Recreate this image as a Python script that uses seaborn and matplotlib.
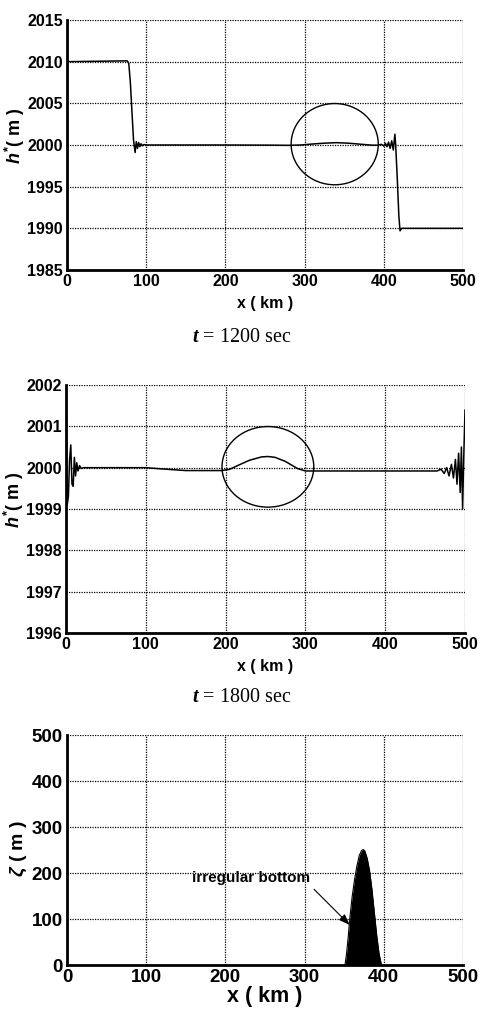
import matplotlib
matplotlib.use("Agg")
import matplotlib.pyplot as plt
import seaborn as sns
import pandas as pd
from matplotlib.patches import Ellipse

# ---------------- data ----------------
x1 = [0, 76, 78, 80, 82, 84, 86, 87.5, 89, 90.5, 92, 93.5, 95, 97, 100, 200, 260, 280,
      295, 310, 325, 340, 355, 370, 385, 393, 397, 400, 402, 404, 406, 408, 410, 412,
      414, 415, 417, 419, 420.5, 422.5, 426, 500]
h1 = [2010, 2010.1, 2009.8, 2007.5, 2004, 2000.6, 1999.1, 2000.4, 1999.6, 2000.3, 1999.8,
      2000.15, 1999.9, 2000.05, 2000, 2000, 1999.98, 1999.96, 2000.0, 2000.12, 2000.22,
      2000.28, 2000.22, 2000.1, 1999.98, 1999.98, 2000.08, 1999.88, 2000.2, 1999.8,
      2000.35, 1999.6, 2000.5, 1999.4, 2001.3, 2000.0, 1996, 1991.5, 1989.7, 1990.0,
      1990, 1990]

x2 = [0, 1.5, 3, 4.5, 6, 7.5, 9, 10.5, 12, 13.5, 15, 17, 19, 22, 100, 120, 150, 195,
      205, 215, 230, 245, 253, 262, 275, 290, 300, 310, 440, 465, 470, 474, 477, 480,
      483, 485.5, 488, 490, 492, 494, 495.5, 497, 498.5, 500]
h2 = [2001.8, 1999.1, 1999.3, 2000.2, 2000.55, 1999.6, 1999.55, 2000.25, 1999.8, 2000.12,
      1999.92, 2000.05, 1999.98, 2000.0, 2000.0, 1999.97, 1999.93, 1999.93, 1999.96,
      2000.05, 2000.18, 2000.26, 2000.27, 2000.25, 2000.15, 1999.98, 1999.92, 1999.92,
      1999.92, 1999.92, 1999.96, 1999.86, 2000.0, 1999.8, 2000.08, 1999.75, 2000.2,
      1999.6, 2000.35, 1999.4, 2000.5, 1999.0, 2000.3, 2001.4]

x3 = [351, 353, 355, 357, 360, 363, 366, 369, 372, 374, 376, 379, 382, 385, 388, 391, 394, 397]
z3 = [0, 25, 60, 100, 148, 185, 215, 238, 249, 251, 248, 232, 205, 165, 115, 65, 25, 0]

xticks = [0, 100, 200, 300, 400, 500]
yticks1 = [1985, 1990, 1995, 2000, 2005, 2010, 2015]
yticks2 = [1996, 1997, 1998, 1999, 2000, 2001, 2002]
yticks3 = [0, 100, 200, 300, 400, 500]

circle1 = (338, 2000.1, 110, 9.75)      # center x, center y, width, height
circle2 = (253, 2000.02, 115, 1.95)

titles = ["$\\mathsf{t}$ = 1200 sec", "$\\mathsf{t}$ = 1800 sec"]
ylabel_h = "$h^{*}$( m )"
ylabel_z = "$\\zeta$ ( m )"
xlabel = "x ( km )"
annot_text = "irregular bottom"
annot_xy = (357, 87)
annot_xytext = (232, 189)

# ---------------- style ----------------
sns.set_theme(style="white")
plt.rcParams["font.family"] = ["Liberation Sans", "DejaVu Sans"]
plt.rcParams["font.weight"] = "bold"
for k in ["text.color", "axes.labelcolor", "xtick.color", "ytick.color", "axes.edgecolor"]:
    plt.rcParams[k] = "black"
plt.rcParams["mathtext.fontset"] = "custom"
plt.rcParams["mathtext.it"] = "Liberation Sans:italic:bold"
plt.rcParams["mathtext.rm"] = "Liberation Sans:bold"
plt.rcParams["mathtext.bf"] = "Liberation Sans:bold"
plt.rcParams["mathtext.sf"] = "Liberation Serif:italic"

fig = plt.figure(figsize=(4.8, 10.1), dpi=100)

def px_axes(left, top, right, bottom):
    W, H = 480.0, 1010.0
    return fig.add_axes([left / W, 1 - bottom / H, (right - left) / W, (bottom - top) / H])

ax1 = px_axes(67, 20, 463, 270)
ax2 = px_axes(66, 385, 465, 633)
ax3 = px_axes(67, 735, 463, 965)

def style(ax, yticks, tick_size=11.5):
    ax.set_xlim(0, 500)
    ax.set_ylim(yticks[0], yticks[-1])
    ax.set_xticks(xticks)
    ax.set_yticks(yticks)
    ax.grid(True, color="black", linestyle=(0, (1, 1)), linewidth=0.9)
    ax.set_axisbelow(False)
    for s in ["top", "right"]:
        ax.spines[s].set_visible(False)
    for s in ["left", "bottom"]:
        ax.spines[s].set_linewidth(2.0)
        ax.spines[s].set_color("black")
    ax.tick_params(direction="in", length=3, width=1, colors="black",
                   labelsize=tick_size, pad=3)
    for lab in ax.get_xticklabels() + ax.get_yticklabels():
        lab.set_fontweight("bold")
        lab.set_color("black")

df1 = pd.DataFrame({"x": x1, "h": h1})
df2 = pd.DataFrame({"x": x2, "h": h2})

sns.lineplot(data=df1, x="x", y="h", ax=ax1, color="black", linewidth=1.1,
             estimator=None, sort=False)
sns.lineplot(data=df2, x="x", y="h", ax=ax2, color="black", linewidth=1.1,
             estimator=None, sort=False)
ax3.fill_between(x3, z3, 0, color="black", linewidth=0)
sns.lineplot(x=x3, y=z3, ax=ax3, color="black", linewidth=0.8, estimator=None, sort=False)

style(ax1, yticks1)
style(ax2, yticks2)
style(ax3, yticks3, tick_size=13.5)

for ax, c in [(ax1, circle1), (ax2, circle2)]:
    ax.add_patch(Ellipse((c[0], c[1]), c[2], c[3], fill=False, edgecolor="black",
                         linewidth=1.0))

for ax in (ax1, ax2):
    ax.set_xlabel(xlabel, fontsize=11.5, fontweight="bold", labelpad=5)
    ax.set_ylabel(ylabel_h, fontsize=13, fontweight="bold")
ax3.set_xlabel(xlabel, fontsize=15.5, fontweight="bold", labelpad=0)
ax3.set_ylabel(ylabel_z, fontsize=14, fontweight="bold")

ax1.yaxis.set_label_coords(-40 / 396, (270 - 136) / 250)
ax2.yaxis.set_label_coords(-40 / 399, (633 - 500) / 248)
ax3.yaxis.set_label_coords(-38 / 396, (965 - 848) / 230)

fig.text(242 / 480, 1 - 337 / 1010, titles[0], family="Liberation Serif",
         fontweight="normal", fontsize=14.5, ha="center", va="center", color="black")
fig.text(242 / 480, 1 - 697 / 1010, titles[1], family="Liberation Serif",
         fontweight="normal", fontsize=14.5, ha="center", va="center", color="black")

ax3.annotate(annot_text, xy=annot_xy, xytext=annot_xytext, fontsize=11,
             fontweight="bold", ha="center", va="center", color="black",
             arrowprops=dict(arrowstyle="-|>,head_length=0.6,head_width=0.22",
                             color="black", lw=0.8, relpos=(1.0, 0.0),
                             shrinkA=1, shrinkB=0))

fig.savefig("out.png", dpi=100)
